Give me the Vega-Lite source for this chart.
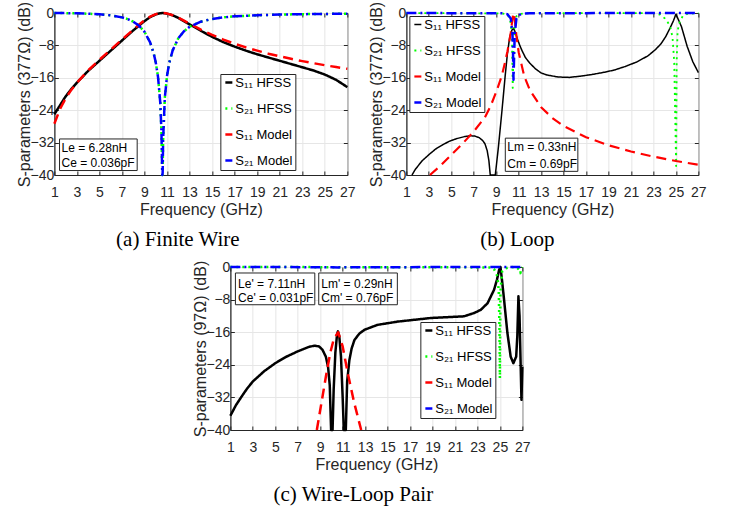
{
"$schema": "https://vega.github.io/schema/vega-lite/v6.json",
"background": "white",
"padding": {"left": 16, "top": 0, "right": 0, "bottom": 0},
"config": {
  "font": "Liberation Sans",
  "view": {"stroke": "#262626", "strokeWidth": 1},
  "axis": {"labelFont": "Liberation Sans", "titleFont": "Liberation Sans", "labelFontSize": 14, "titleFontSize": 16, "titleFontWeight": "normal", "labelColor": "#262626", "titleColor": "#262626", "domainColor": "#262626", "tickColor": "#262626", "gridColor": "#e6e6e6", "gridWidth": 1, "tickSize": -4, "tickWidth": 1, "labelFlush": false, "labelOverlap": false},
  "axisX": {"labelPadding": 14, "titlePadding": 2},
  "axisY": {"labelPadding": 4.5, "titlePadding": -2.5},
  "legend": {"title": null, "symbolType": "stroke", "symbolSize": 49, "labelFontSize": 13, "labelFont": "Liberation Sans", "labelColor": "black", "fillColor": "white", "strokeColor": "#262626", "padding": 2, "rowPadding": 12, "labelOffset": 0},
  "title": {"orient": "bottom", "font": "Liberation Serif", "fontSize": 21, "fontWeight": "normal", "color": "black", "offset": 12, "anchor": "middle", "frame": "group"}
},
"datasets": {
  "a": [
    {"freq":1,"db":-25.0,"series":"S₁₁ HFSS"},{"freq":1.5,"db":-22.8,"series":"S₁₁ HFSS"},{"freq":2,"db":-20.6,"series":"S₁₁ HFSS"},{"freq":2.5,"db":-18.8,"series":"S₁₁ HFSS"},{"freq":3,"db":-17.2,"series":"S₁₁ HFSS"},{"freq":4,"db":-14.3,"series":"S₁₁ HFSS"},{"freq":5,"db":-11.8,"series":"S₁₁ HFSS"},{"freq":6,"db":-9.3,"series":"S₁₁ HFSS"},{"freq":7,"db":-6.8,"series":"S₁₁ HFSS"},{"freq":8,"db":-4.3,"series":"S₁₁ HFSS"},{"freq":9,"db":-2.0,"series":"S₁₁ HFSS"},{"freq":9.5,"db":-1.0,"series":"S₁₁ HFSS"},{"freq":10,"db":-0.35,"series":"S₁₁ HFSS"},{"freq":10.3,"db":-0.1,"series":"S₁₁ HFSS"},{"freq":10.6,"db":0,"series":"S₁₁ HFSS"},{"freq":10.9,"db":-0.1,"series":"S₁₁ HFSS"},{"freq":11.2,"db":-0.3,"series":"S₁₁ HFSS"},{"freq":11.6,"db":-0.7,"series":"S₁₁ HFSS"},{"freq":12,"db":-1.2,"series":"S₁₁ HFSS"},{"freq":13,"db":-2.8,"series":"S₁₁ HFSS"},{"freq":14,"db":-4.4,"series":"S₁₁ HFSS"},{"freq":15,"db":-5.9,"series":"S₁₁ HFSS"},{"freq":16,"db":-7.2,"series":"S₁₁ HFSS"},{"freq":17,"db":-8.3,"series":"S₁₁ HFSS"},{"freq":18,"db":-9.3,"series":"S₁₁ HFSS"},{"freq":19,"db":-10.2,"series":"S₁₁ HFSS"},{"freq":20,"db":-11.0,"series":"S₁₁ HFSS"},{"freq":21,"db":-11.8,"series":"S₁₁ HFSS"},{"freq":22,"db":-12.6,"series":"S₁₁ HFSS"},{"freq":23,"db":-13.4,"series":"S₁₁ HFSS"},{"freq":24,"db":-14.2,"series":"S₁₁ HFSS"},{"freq":25,"db":-15.2,"series":"S₁₁ HFSS"},{"freq":26,"db":-16.5,"series":"S₁₁ HFSS"},{"freq":27,"db":-18.3,"series":"S₁₁ HFSS"},
    {"freq":1,"db":-0.01,"series":"S₂₁ HFSS"},{"freq":2,"db":-0.03,"series":"S₂₁ HFSS"},{"freq":3,"db":-0.08,"series":"S₂₁ HFSS"},{"freq":4,"db":-0.17,"series":"S₂₁ HFSS"},{"freq":5,"db":-0.32,"series":"S₂₁ HFSS"},{"freq":6,"db":-0.58,"series":"S₂₁ HFSS"},{"freq":7,"db":-1.08,"series":"S₂₁ HFSS"},{"freq":7.5,"db":-1.5,"series":"S₂₁ HFSS"},{"freq":8,"db":-2.13,"series":"S₂₁ HFSS"},{"freq":8.5,"db":-3.1,"series":"S₂₁ HFSS"},{"freq":9,"db":-4.65,"series":"S₂₁ HFSS"},{"freq":9.5,"db":-7.27,"series":"S₂₁ HFSS"},{"freq":9.8,"db":-9.81,"series":"S₂₁ HFSS"},{"freq":10,"db":-12.24,"series":"S₂₁ HFSS"},{"freq":10.2,"db":-15.82,"series":"S₂₁ HFSS"},{"freq":10.4,"db":-22.19,"series":"S₂₁ HFSS"},{"freq":10.5,"db":-29.0,"series":"S₂₁ HFSS"},{"freq":10.55,"db":-36.5,"series":"S₂₁ HFSS"},{"freq":10.58,"db":-40,"series":"S₂₁ HFSS"},{"freq":10.61,"db":-39.5,"series":"S₂₁ HFSS"},{"freq":10.65,"db":-31.4,"series":"S₂₁ HFSS"},{"freq":10.8,"db":-21.0,"series":"S₂₁ HFSS"},{"freq":11,"db":-15.47,"series":"S₂₁ HFSS"},{"freq":11.2,"db":-12.27,"series":"S₂₁ HFSS"},{"freq":11.5,"db":-9.23,"series":"S₂₁ HFSS"},{"freq":12,"db":-6.25,"series":"S₂₁ HFSS"},{"freq":12.5,"db":-4.51,"series":"S₂₁ HFSS"},{"freq":13,"db":-3.40,"series":"S₂₁ HFSS"},{"freq":14,"db":-2.14,"series":"S₂₁ HFSS"},{"freq":15,"db":-1.47,"series":"S₂₁ HFSS"},{"freq":16,"db":-1.08,"series":"S₂₁ HFSS"},{"freq":17,"db":-0.83,"series":"S₂₁ HFSS"},{"freq":19,"db":-0.55,"series":"S₂₁ HFSS"},{"freq":21,"db":-0.39,"series":"S₂₁ HFSS"},{"freq":23,"db":-0.29,"series":"S₂₁ HFSS"},{"freq":25,"db":-0.23,"series":"S₂₁ HFSS"},{"freq":27,"db":-0.18,"series":"S₂₁ HFSS"},
    {"freq":1,"db":-27.33,"series":"S₁₁ Model"},{"freq":1.5,"db":-23.72,"series":"S₁₁ Model"},{"freq":2,"db":-21.1,"series":"S₁₁ Model"},{"freq":2.5,"db":-18.99,"series":"S₁₁ Model"},{"freq":3,"db":-17.22,"series":"S₁₁ Model"},{"freq":4,"db":-14.19,"series":"S₁₁ Model"},{"freq":5,"db":-11.55,"series":"S₁₁ Model"},{"freq":6,"db":-9.05,"series":"S₁₁ Model"},{"freq":7,"db":-6.58,"series":"S₁₁ Model"},{"freq":7.5,"db":-5.35,"series":"S₁₁ Model"},{"freq":8,"db":-4.11,"series":"S₁₁ Model"},{"freq":8.5,"db":-2.92,"series":"S₁₁ Model"},{"freq":9,"db":-1.82,"series":"S₁₁ Model"},{"freq":9.5,"db":-0.9,"series":"S₁₁ Model"},{"freq":10,"db":-0.27,"series":"S₁₁ Model"},{"freq":10.3,"db":-0.06,"series":"S₁₁ Model"},{"freq":10.58,"db":0,"series":"S₁₁ Model"},{"freq":10.9,"db":-0.07,"series":"S₁₁ Model"},{"freq":11.2,"db":-0.27,"series":"S₁₁ Model"},{"freq":11.5,"db":-0.55,"series":"S₁₁ Model"},{"freq":12,"db":-1.18,"series":"S₁₁ Model"},{"freq":12.5,"db":-1.9,"series":"S₁₁ Model"},{"freq":13,"db":-2.65,"series":"S₁₁ Model"},{"freq":14,"db":-4.11,"series":"S₁₁ Model"},{"freq":15,"db":-5.42,"series":"S₁₁ Model"},{"freq":16,"db":-6.58,"series":"S₁₁ Model"},{"freq":17,"db":-7.59,"series":"S₁₁ Model"},{"freq":18,"db":-8.5,"series":"S₁₁ Model"},{"freq":19,"db":-9.3,"series":"S₁₁ Model"},{"freq":20,"db":-10.04,"series":"S₁₁ Model"},{"freq":21,"db":-10.7,"series":"S₁₁ Model"},{"freq":22,"db":-11.31,"series":"S₁₁ Model"},{"freq":23,"db":-11.88,"series":"S₁₁ Model"},{"freq":24,"db":-12.4,"series":"S₁₁ Model"},{"freq":25,"db":-12.89,"series":"S₁₁ Model"},{"freq":26,"db":-13.35,"series":"S₁₁ Model"},{"freq":27,"db":-13.78,"series":"S₁₁ Model"},
    {"freq":1,"db":-0.01,"series":"S₂₁ Model"},{"freq":2,"db":-0.03,"series":"S₂₁ Model"},{"freq":3,"db":-0.08,"series":"S₂₁ Model"},{"freq":4,"db":-0.17,"series":"S₂₁ Model"},{"freq":5,"db":-0.32,"series":"S₂₁ Model"},{"freq":6,"db":-0.58,"series":"S₂₁ Model"},{"freq":7,"db":-1.08,"series":"S₂₁ Model"},{"freq":7.5,"db":-1.5,"series":"S₂₁ Model"},{"freq":8,"db":-2.13,"series":"S₂₁ Model"},{"freq":8.5,"db":-3.1,"series":"S₂₁ Model"},{"freq":9,"db":-4.65,"series":"S₂₁ Model"},{"freq":9.5,"db":-7.27,"series":"S₂₁ Model"},{"freq":9.8,"db":-9.81,"series":"S₂₁ Model"},{"freq":10,"db":-12.24,"series":"S₂₁ Model"},{"freq":10.2,"db":-15.82,"series":"S₂₁ Model"},{"freq":10.4,"db":-22.19,"series":"S₂₁ Model"},{"freq":10.5,"db":-29.0,"series":"S₂₁ Model"},{"freq":10.55,"db":-36.5,"series":"S₂₁ Model"},{"freq":10.58,"db":-40,"series":"S₂₁ Model"},{"freq":10.61,"db":-39.5,"series":"S₂₁ Model"},{"freq":10.65,"db":-31.4,"series":"S₂₁ Model"},{"freq":10.8,"db":-21.0,"series":"S₂₁ Model"},{"freq":11,"db":-15.47,"series":"S₂₁ Model"},{"freq":11.2,"db":-12.27,"series":"S₂₁ Model"},{"freq":11.5,"db":-9.23,"series":"S₂₁ Model"},{"freq":12,"db":-6.25,"series":"S₂₁ Model"},{"freq":12.5,"db":-4.51,"series":"S₂₁ Model"},{"freq":13,"db":-3.40,"series":"S₂₁ Model"},{"freq":14,"db":-2.14,"series":"S₂₁ Model"},{"freq":15,"db":-1.47,"series":"S₂₁ Model"},{"freq":16,"db":-1.08,"series":"S₂₁ Model"},{"freq":17,"db":-0.83,"series":"S₂₁ Model"},{"freq":19,"db":-0.55,"series":"S₂₁ Model"},{"freq":21,"db":-0.39,"series":"S₂₁ Model"},{"freq":23,"db":-0.29,"series":"S₂₁ Model"},{"freq":25,"db":-0.23,"series":"S₂₁ Model"},{"freq":27,"db":-0.18,"series":"S₂₁ Model"}
  ],
  "b": [
    {"freq":1.5,"db":-40,"series":"S₁₁ HFSS"},{"freq":1.8,"db":-38.6,"series":"S₁₁ HFSS"},{"freq":2.4,"db":-36.5,"series":"S₁₁ HFSS"},{"freq":3,"db":-35.0,"series":"S₁₁ HFSS"},{"freq":3.6,"db":-33.6,"series":"S₁₁ HFSS"},{"freq":4.2,"db":-32.6,"series":"S₁₁ HFSS"},{"freq":4.8,"db":-31.7,"series":"S₁₁ HFSS"},{"freq":5.5,"db":-31.0,"series":"S₁₁ HFSS"},{"freq":6.2,"db":-30.5,"series":"S₁₁ HFSS"},{"freq":6.7,"db":-30.3,"series":"S₁₁ HFSS"},{"freq":7.1,"db":-30.4,"series":"S₁₁ HFSS"},{"freq":7.5,"db":-30.8,"series":"S₁₁ HFSS"},{"freq":7.8,"db":-31.5,"series":"S₁₁ HFSS"},{"freq":8.0,"db":-32.3,"series":"S₁₁ HFSS"},{"freq":8.2,"db":-34.0,"series":"S₁₁ HFSS"},{"freq":8.35,"db":-36.5,"series":"S₁₁ HFSS"},{"freq":8.47,"db":-40,"series":"S₁₁ HFSS"},{"freq":8.92,"db":-40,"series":"S₁₁ HFSS"},{"freq":9.0,"db":-38,"series":"S₁₁ HFSS"},{"freq":9.2,"db":-33,"series":"S₁₁ HFSS"},{"freq":9.5,"db":-24.5,"series":"S₁₁ HFSS"},{"freq":9.8,"db":-15.5,"series":"S₁₁ HFSS"},{"freq":10.0,"db":-10,"series":"S₁₁ HFSS"},{"freq":10.2,"db":-6,"series":"S₁₁ HFSS"},{"freq":10.4,"db":-4.2,"series":"S₁₁ HFSS"},{"freq":10.55,"db":-3.8,"series":"S₁₁ HFSS"},{"freq":10.7,"db":-4.8,"series":"S₁₁ HFSS"},{"freq":10.9,"db":-6.5,"series":"S₁₁ HFSS"},{"freq":11.1,"db":-8.0,"series":"S₁₁ HFSS"},{"freq":11.3,"db":-9.3,"series":"S₁₁ HFSS"},{"freq":11.6,"db":-11.0,"series":"S₁₁ HFSS"},{"freq":12.0,"db":-12.4,"series":"S₁₁ HFSS"},{"freq":12.5,"db":-13.8,"series":"S₁₁ HFSS"},{"freq":13.0,"db":-14.8,"series":"S₁₁ HFSS"},{"freq":13.5,"db":-15.3,"series":"S₁₁ HFSS"},{"freq":14.5,"db":-15.8,"series":"S₁₁ HFSS"},{"freq":15.5,"db":-15.9,"series":"S₁₁ HFSS"},{"freq":16.5,"db":-15.6,"series":"S₁₁ HFSS"},{"freq":17.5,"db":-15.2,"series":"S₁₁ HFSS"},{"freq":18.5,"db":-14.7,"series":"S₁₁ HFSS"},{"freq":19.5,"db":-14.1,"series":"S₁₁ HFSS"},{"freq":20.5,"db":-13.2,"series":"S₁₁ HFSS"},{"freq":21.5,"db":-12.1,"series":"S₁₁ HFSS"},{"freq":22.5,"db":-10.6,"series":"S₁₁ HFSS"},{"freq":23.2,"db":-9.0,"series":"S₁₁ HFSS"},{"freq":23.7,"db":-7.5,"series":"S₁₁ HFSS"},{"freq":24.1,"db":-5.8,"series":"S₁₁ HFSS"},{"freq":24.5,"db":-3.6,"series":"S₁₁ HFSS"},{"freq":24.8,"db":-1.8,"series":"S₁₁ HFSS"},{"freq":25.0,"db":-0.3,"series":"S₁₁ HFSS"},{"freq":25.2,"db":-1.5,"series":"S₁₁ HFSS"},{"freq":25.5,"db":-3.4,"series":"S₁₁ HFSS"},{"freq":26.0,"db":-8.2,"series":"S₁₁ HFSS"},{"freq":26.5,"db":-12.0,"series":"S₁₁ HFSS"},{"freq":27.0,"db":-14.7,"series":"S₁₁ HFSS"},
    {"freq":1,"db":0,"series":"S₂₁ HFSS"},{"freq":9.5,"db":-0.1,"series":"S₂₁ HFSS"},{"freq":9.9,"db":-0.3,"series":"S₂₁ HFSS"},{"freq":10.1,"db":-0.8,"series":"S₂₁ HFSS"},{"freq":10.3,"db":-2.5,"series":"S₂₁ HFSS"},{"freq":10.4,"db":-6,"series":"S₂₁ HFSS"},{"freq":10.47,"db":-18.5,"series":"S₂₁ HFSS"},{"freq":10.55,"db":-8,"series":"S₂₁ HFSS"},{"freq":10.65,"db":-2.5,"series":"S₂₁ HFSS"},{"freq":10.8,"db":-0.8,"series":"S₂₁ HFSS"},{"freq":11.2,"db":-0.2,"series":"S₂₁ HFSS"},{"freq":12,"db":0,"series":"S₂₁ HFSS"},{"freq":23,"db":-0.05,"series":"S₂₁ HFSS"},{"freq":23.6,"db":-0.4,"series":"S₂₁ HFSS"},{"freq":24.0,"db":-1.3,"series":"S₂₁ HFSS"},{"freq":24.3,"db":-2.4,"series":"S₂₁ HFSS"},{"freq":24.5,"db":-3.5,"series":"S₂₁ HFSS"},{"freq":24.7,"db":-6,"series":"S₂₁ HFSS"},{"freq":24.85,"db":-12,"series":"S₂₁ HFSS"},{"freq":24.97,"db":-30,"series":"S₂₁ HFSS"},{"freq":25.02,"db":-37.8,"series":"S₂₁ HFSS"},{"freq":25.07,"db":-12,"series":"S₂₁ HFSS"},{"freq":25.15,"db":-4.5,"series":"S₂₁ HFSS"},{"freq":25.3,"db":-2.5,"series":"S₂₁ HFSS"},{"freq":25.6,"db":-0.8,"series":"S₂₁ HFSS"},{"freq":26,"db":-0.2,"series":"S₂₁ HFSS"},{"freq":27,"db":0,"series":"S₂₁ HFSS"},
    {"freq":3.1,"db":-40,"series":"S₁₁ Model"},{"freq":4,"db":-37.82,"series":"S₁₁ Model"},{"freq":5,"db":-35.02,"series":"S₁₁ Model"},{"freq":6,"db":-32.26,"series":"S₁₁ Model"},{"freq":7,"db":-29.28,"series":"S₁₁ Model"},{"freq":8,"db":-25.72,"series":"S₁₁ Model"},{"freq":8.5,"db":-23.0,"series":"S₁₁ Model"},{"freq":9,"db":-19.5,"series":"S₁₁ Model"},{"freq":9.5,"db":-15.5,"series":"S₁₁ Model"},{"freq":9.8,"db":-12,"series":"S₁₁ Model"},{"freq":10,"db":-9.5,"series":"S₁₁ Model"},{"freq":10.2,"db":-6.5,"series":"S₁₁ Model"},{"freq":10.3,"db":-4.8,"series":"S₁₁ Model"},{"freq":10.4,"db":-2.5,"series":"S₁₁ Model"},{"freq":10.5,"db":-0.44,"series":"S₁₁ Model"},{"freq":10.55,"db":0,"series":"S₁₁ Model"},{"freq":10.6,"db":-0.44,"series":"S₁₁ Model"},{"freq":10.7,"db":-2.89,"series":"S₁₁ Model"},{"freq":10.8,"db":-5.58,"series":"S₁₁ Model"},{"freq":11,"db":-9.68,"series":"S₁₁ Model"},{"freq":11.5,"db":-15.61,"series":"S₁₁ Model"},{"freq":12,"db":-19.05,"series":"S₁₁ Model"},{"freq":13,"db":-23.25,"series":"S₁₁ Model"},{"freq":14,"db":-25.93,"series":"S₁₁ Model"},{"freq":15,"db":-27.89,"series":"S₁₁ Model"},{"freq":17,"db":-30.67,"series":"S₁₁ Model"},{"freq":19,"db":-32.66,"series":"S₁₁ Model"},{"freq":21,"db":-34.2,"series":"S₁₁ Model"},{"freq":23,"db":-35.46,"series":"S₁₁ Model"},{"freq":25,"db":-36.54,"series":"S₁₁ Model"},{"freq":27,"db":-37.47,"series":"S₁₁ Model"},
    {"freq":1,"db":0,"series":"S₂₁ Model"},{"freq":9.5,"db":-0.08,"series":"S₂₁ Model"},{"freq":10.0,"db":-0.31,"series":"S₂₁ Model"},{"freq":10.3,"db":-1.35,"series":"S₂₁ Model"},{"freq":10.45,"db":-5.2,"series":"S₂₁ Model"},{"freq":10.5,"db":-10.1,"series":"S₂₁ Model"},{"freq":10.54,"db":-16.5,"series":"S₂₁ Model"},{"freq":10.6,"db":-10.2,"series":"S₂₁ Model"},{"freq":10.65,"db":-5.1,"series":"S₂₁ Model"},{"freq":10.8,"db":-1.4,"series":"S₂₁ Model"},{"freq":11.0,"db":-0.5,"series":"S₂₁ Model"},{"freq":11.5,"db":-0.12,"series":"S₂₁ Model"},{"freq":12,"db":-0.05,"series":"S₂₁ Model"},{"freq":27,"db":0,"series":"S₂₁ Model"}
  ],
  "c": [
    {"freq":1,"db":-36.5,"series":"S₁₁ HFSS"},{"freq":1.5,"db":-33.9,"series":"S₁₁ HFSS"},{"freq":2,"db":-31.8,"series":"S₁₁ HFSS"},{"freq":2.5,"db":-29.8,"series":"S₁₁ HFSS"},{"freq":3,"db":-28.1,"series":"S₁₁ HFSS"},{"freq":4,"db":-25.6,"series":"S₁₁ HFSS"},{"freq":5,"db":-23.6,"series":"S₁₁ HFSS"},{"freq":6,"db":-22.0,"series":"S₁₁ HFSS"},{"freq":7,"db":-20.7,"series":"S₁₁ HFSS"},{"freq":8,"db":-19.6,"series":"S₁₁ HFSS"},{"freq":8.5,"db":-19.3,"series":"S₁₁ HFSS"},{"freq":8.9,"db":-19.5,"series":"S₁₁ HFSS"},{"freq":9.2,"db":-20.3,"series":"S₁₁ HFSS"},{"freq":9.5,"db":-22.0,"series":"S₁₁ HFSS"},{"freq":9.7,"db":-24.5,"series":"S₁₁ HFSS"},{"freq":9.85,"db":-29,"series":"S₁₁ HFSS"},{"freq":9.97,"db":-40,"series":"S₁₁ HFSS"},{"freq":10.1,"db":-40,"series":"S₁₁ HFSS"},{"freq":10.2,"db":-30,"series":"S₁₁ HFSS"},{"freq":10.35,"db":-21,"series":"S₁₁ HFSS"},{"freq":10.5,"db":-16.5,"series":"S₁₁ HFSS"},{"freq":10.58,"db":-15.8,"series":"S₁₁ HFSS"},{"freq":10.7,"db":-17,"series":"S₁₁ HFSS"},{"freq":10.85,"db":-22,"series":"S₁₁ HFSS"},{"freq":11.0,"db":-32,"series":"S₁₁ HFSS"},{"freq":11.1,"db":-40,"series":"S₁₁ HFSS"},{"freq":11.28,"db":-40,"series":"S₁₁ HFSS"},{"freq":11.4,"db":-28,"series":"S₁₁ HFSS"},{"freq":11.6,"db":-22.8,"series":"S₁₁ HFSS"},{"freq":11.8,"db":-20,"series":"S₁₁ HFSS"},{"freq":12.05,"db":-17.9,"series":"S₁₁ HFSS"},{"freq":12.5,"db":-16.3,"series":"S₁₁ HFSS"},{"freq":12.95,"db":-15.4,"series":"S₁₁ HFSS"},{"freq":14.1,"db":-14.2,"series":"S₁₁ HFSS"},{"freq":15.9,"db":-13.4,"series":"S₁₁ HFSS"},{"freq":18.9,"db":-12.5,"series":"S₁₁ HFSS"},{"freq":21.8,"db":-12.1,"series":"S₁₁ HFSS"},{"freq":22.7,"db":-11.3,"series":"S₁₁ HFSS"},{"freq":23.3,"db":-10.5,"series":"S₁₁ HFSS"},{"freq":23.9,"db":-8.9,"series":"S₁₁ HFSS"},{"freq":24.48,"db":-5.6,"series":"S₁₁ HFSS"},{"freq":24.75,"db":-3,"series":"S₁₁ HFSS"},{"freq":24.93,"db":-0.7,"series":"S₁₁ HFSS"},{"freq":25.05,"db":0,"series":"S₁₁ HFSS"},{"freq":25.2,"db":-3.5,"series":"S₁₁ HFSS"},{"freq":25.37,"db":-8,"series":"S₁₁ HFSS"},{"freq":25.67,"db":-16.2,"series":"S₁₁ HFSS"},{"freq":25.96,"db":-22,"series":"S₁₁ HFSS"},{"freq":26.2,"db":-23.6,"series":"S₁₁ HFSS"},{"freq":26.45,"db":-22,"series":"S₁₁ HFSS"},{"freq":26.55,"db":-17,"series":"S₁₁ HFSS"},{"freq":26.65,"db":-7.2,"series":"S₁₁ HFSS"},{"freq":26.75,"db":-12,"series":"S₁₁ HFSS"},{"freq":26.92,"db":-32.6,"series":"S₁₁ HFSS"},{"freq":27.0,"db":-24.5,"series":"S₁₁ HFSS"},
    {"freq":1,"db":0,"series":"S₂₁ HFSS"},{"freq":24.3,"db":-0.1,"series":"S₂₁ HFSS"},{"freq":24.5,"db":-0.6,"series":"S₂₁ HFSS"},{"freq":24.78,"db":-2.3,"series":"S₂₁ HFSS"},{"freq":24.9,"db":-6,"series":"S₂₁ HFSS"},{"freq":24.96,"db":-15,"series":"S₂₁ HFSS"},{"freq":25.0,"db":-27.3,"series":"S₂₁ HFSS"},{"freq":25.05,"db":-6,"series":"S₂₁ HFSS"},{"freq":25.2,"db":-1.1,"series":"S₂₁ HFSS"},{"freq":25.5,"db":-0.3,"series":"S₂₁ HFSS"},{"freq":26,"db":0,"series":"S₂₁ HFSS"},{"freq":26.5,"db":-0.1,"series":"S₂₁ HFSS"},{"freq":26.7,"db":-0.6,"series":"S₂₁ HFSS"},{"freq":26.82,"db":-1.5,"series":"S₂₁ HFSS"},{"freq":26.92,"db":-0.4,"series":"S₂₁ HFSS"},{"freq":27,"db":0,"series":"S₂₁ HFSS"},
    {"freq":8.7,"db":-40,"series":"S₁₁ Model"},{"freq":9.1,"db":-33.5,"series":"S₁₁ Model"},{"freq":9.5,"db":-27,"series":"S₁₁ Model"},{"freq":9.9,"db":-21,"series":"S₁₁ Model"},{"freq":10.2,"db":-17.8,"series":"S₁₁ Model"},{"freq":10.6,"db":-16.0,"series":"S₁₁ Model"},{"freq":11.0,"db":-19.5,"series":"S₁₁ Model"},{"freq":11.45,"db":-26,"series":"S₁₁ Model"},{"freq":12.0,"db":-33,"series":"S₁₁ Model"},{"freq":12.34,"db":-36.7,"series":"S₁₁ Model"},{"freq":12.65,"db":-40,"series":"S₁₁ Model"},
    {"freq":1,"db":0,"series":"S₂₁ Model"},{"freq":10.0,"db":-0.05,"series":"S₂₁ Model"},{"freq":10.6,"db":-0.11,"series":"S₂₁ Model"},{"freq":11.2,"db":-0.05,"series":"S₂₁ Model"},{"freq":27,"db":0,"series":"S₂₁ Model"}
  ]
},
"vconcat": [
  {
    "hconcat": [
      {
        "width": 293, "height": 162,
        "title": {"text": "(a) Finite Wire", "dx": -23},
        "resolve": {"axis": {"x": "independent", "y": "independent"}},
        "layer": [
          {
            "data": {"name": "a"},
            "mark": {"type": "line", "strokeJoin": "round"},
            "encoding": {
              "x": {"field": "freq", "type": "quantitative", "scale": {"domain": [1, 27], "nice": false, "zero": false}, "axis": {"values": [1,3,5,7,9,11,13,15,17,19,21,23,25,27], "title": "Frequency (GHz)"}},
              "y": {"field": "db", "type": "quantitative", "scale": {"domain": [-40, 0], "nice": false, "clamp": true}, "axis": {"values": [0,-8,-16,-24,-32,-40], "title": "S-parameters (377Ω) (dB)"}},
              "color": {"field": "series", "type": "nominal", "scale": {"domain": ["S₁₁ HFSS","S₂₁ HFSS","S₁₁ Model","S₂₁ Model"], "range": ["#000000","#00ff00","#ff0000","#0000ff"]}, "legend": {"orient": "none", "legendX": 166, "legendY": 61}},
              "strokeDash": {"field": "series", "type": "nominal", "scale": {"domain": ["S₁₁ HFSS","S₂₁ HFSS","S₁₁ Model","S₂₁ Model"], "range": [[1,0],[2,4],[10,6],[10,4,2,4]]}, "legend": {"orient": "none", "legendX": 166, "legendY": 61}},
              "strokeWidth": {"field": "series", "type": "nominal", "scale": {"domain": ["S₁₁ HFSS","S₂₁ HFSS","S₁₁ Model","S₂₁ Model"], "range": [2.5,2.5,2.5,2.5]}, "legend": {"orient": "none", "legendX": 166, "legendY": 61}}
            }
          },
          {
            "data": {"name": "a"},
            "mark": {"type": "point", "opacity": 0},
            "encoding": {
              "x": {"field": "freq", "type": "quantitative", "axis": {"orient": "top", "labels": false, "title": null, "grid": false, "domain": false, "values": [1,3,5,7,9,11,13,15,17,19,21,23,25,27]}},
              "y": {"field": "db", "type": "quantitative", "axis": {"orient": "right", "labels": false, "title": null, "grid": false, "domain": false, "values": [0,-8,-16,-24,-32,-40]}}
            }
          },
          {
            "data": {"values": [{}]},
            "mark": {"type": "rect", "fill": "white", "stroke": "#262626", "strokeWidth": 1},
            "encoding": {"x": {"datum": 1.46, "type": "quantitative", "axis": null}, "x2": {"datum": 8.35}, "y": {"datum": -31.1, "type": "quantitative", "axis": null}, "y2": {"datum": -38.9}}
          },
          {
            "data": {"values": [{}]},
            "mark": {"type": "text", "align": "left", "baseline": "middle", "fontSize": 12, "font": "Liberation Sans", "color": "black"},
            "encoding": {"x": {"datum": 1.64, "type": "quantitative", "axis": null}, "y": {"datum": -33.3, "type": "quantitative", "axis": null}, "text": {"value": "Le = 6.28nH"}}
          },
          {
            "data": {"values": [{}]},
            "mark": {"type": "text", "align": "left", "baseline": "middle", "fontSize": 12, "font": "Liberation Sans", "color": "black"},
            "encoding": {"x": {"datum": 1.64, "type": "quantitative", "axis": null}, "y": {"datum": -37.1, "type": "quantitative", "axis": null}, "text": {"value": "Ce = 0.036pF"}}
          }
        ]
      },
      {
        "width": 292, "height": 162,
        "title": {"text": "(b) Loop", "dx": -35},
        "resolve": {"axis": {"x": "independent", "y": "independent"}},
        "layer": [
          {
            "data": {"name": "b"},
            "mark": {"type": "line", "strokeJoin": "round"},
            "encoding": {
              "x": {"field": "freq", "type": "quantitative", "scale": {"domain": [1, 27], "nice": false, "zero": false}, "axis": {"values": [1,3,5,7,9,11,13,15,17,19,21,23,25,27], "title": "Frequency (GHz)"}},
              "y": {"field": "db", "type": "quantitative", "scale": {"domain": [-40, 0], "nice": false, "clamp": true}, "axis": {"values": [0,-8,-16,-24,-32,-40], "title": "S-parameters (377Ω) (dB)"}},
              "color": {"field": "series", "type": "nominal", "scale": {"domain": ["S₁₁ HFSS","S₂₁ HFSS","S₁₁ Model","S₂₁ Model"], "range": ["#000000","#00ff00","#ff0000","#0000ff"]}, "legend": {"orient": "none", "legendX": 3, "legendY": 3}},
              "strokeDash": {"field": "series", "type": "nominal", "scale": {"domain": ["S₁₁ HFSS","S₂₁ HFSS","S₁₁ Model","S₂₁ Model"], "range": [[1,0],[2,4],[10,6],[10,4,2,4]]}, "legend": {"orient": "none", "legendX": 3, "legendY": 3}},
              "strokeWidth": {"field": "series", "type": "nominal", "scale": {"domain": ["S₁₁ HFSS","S₂₁ HFSS","S₁₁ Model","S₂₁ Model"], "range": [1.5,2.5,2.5,2.5]}, "legend": {"orient": "none", "legendX": 3, "legendY": 3}}
            }
          },
          {
            "data": {"name": "b"},
            "mark": {"type": "point", "opacity": 0},
            "encoding": {
              "x": {"field": "freq", "type": "quantitative", "axis": {"orient": "top", "labels": false, "title": null, "grid": false, "domain": false, "values": [1,3,5,7,9,11,13,15,17,19,21,23,25,27]}},
              "y": {"field": "db", "type": "quantitative", "axis": {"orient": "right", "labels": false, "title": null, "grid": false, "domain": false, "values": [0,-8,-16,-24,-32,-40]}}
            }
          },
          {
            "data": {"values": [{}]},
            "mark": {"type": "rect", "fill": "white", "stroke": "#262626", "strokeWidth": 1},
            "encoding": {"x": {"datum": 9.81, "type": "quantitative", "axis": null}, "x2": {"datum": 16.27}, "y": {"datum": -30.9, "type": "quantitative", "axis": null}, "y2": {"datum": -39.1}}
          },
          {
            "data": {"values": [{}]},
            "mark": {"type": "text", "align": "left", "baseline": "middle", "fontSize": 12, "font": "Liberation Sans", "color": "black"},
            "encoding": {"x": {"datum": 9.99, "type": "quantitative", "axis": null}, "y": {"datum": -33.2, "type": "quantitative", "axis": null}, "text": {"value": "Lm = 0.33nH"}}
          },
          {
            "data": {"values": [{}]},
            "mark": {"type": "text", "align": "left", "baseline": "middle", "fontSize": 12, "font": "Liberation Sans", "color": "black"},
            "encoding": {"x": {"datum": 9.99, "type": "quantitative", "axis": null}, "y": {"datum": -37.3, "type": "quantitative", "axis": null}, "text": {"value": "Cm = 0.69pF"}}
          }
        ]
      }
    ],
    "spacing": 59,
    "bounds": "flush",
    "resolve": {"scale": {"color": "independent", "strokeDash": "independent", "strokeWidth": "independent"}, "legend": {"color": "independent", "strokeDash": "independent", "strokeWidth": "independent"}}
  },
  {
    "width": 292, "height": 163,
    "title": {"text": "(c) Wire-Loop Pair", "dx": -23},
    "resolve": {"axis": {"x": "independent", "y": "independent"}},
    "layer": [
      {
        "data": {"name": "c"},
        "mark": {"type": "line", "strokeJoin": "round"},
        "encoding": {
          "x": {"field": "freq", "type": "quantitative", "scale": {"domain": [1, 27], "nice": false, "zero": false}, "axis": {"values": [1,3,5,7,9,11,13,15,17,19,21,23,25,27], "title": "Frequency (GHz)"}},
          "y": {"field": "db", "type": "quantitative", "scale": {"domain": [-40, 0], "nice": false, "clamp": true}, "axis": {"values": [0,-8,-16,-24,-32,-40], "title": "S-parameters (97Ω) (dB)"}},
          "color": {"field": "series", "type": "nominal", "scale": {"domain": ["S₁₁ HFSS","S₂₁ HFSS","S₁₁ Model","S₂₁ Model"], "range": ["#000000","#00ff00","#ff0000","#0000ff"]}, "legend": {"orient": "none", "legendX": 190, "legendY": 55}},
          "strokeDash": {"field": "series", "type": "nominal", "scale": {"domain": ["S₁₁ HFSS","S₂₁ HFSS","S₁₁ Model","S₂₁ Model"], "range": [[1,0],[2,4],[10,6],[10,4,2,4]]}, "legend": {"orient": "none", "legendX": 190, "legendY": 55}},
          "strokeWidth": {"field": "series", "type": "nominal", "scale": {"domain": ["S₁₁ HFSS","S₂₁ HFSS","S₁₁ Model","S₂₁ Model"], "range": [2.5,2.5,2.5,2.5]}, "legend": {"orient": "none", "legendX": 190, "legendY": 55}}
        }
      },
      {
        "data": {"name": "c"},
        "mark": {"type": "point", "opacity": 0},
        "encoding": {
          "x": {"field": "freq", "type": "quantitative", "axis": {"orient": "top", "labels": false, "title": null, "grid": false, "domain": false, "values": [1,3,5,7,9,11,13,15,17,19,21,23,25,27]}},
          "y": {"field": "db", "type": "quantitative", "axis": {"orient": "right", "labels": false, "title": null, "grid": false, "domain": false, "values": [0,-8,-16,-24,-32,-40]}}
        }
      },
      {
        "data": {"values": [{}]},
        "mark": {"type": "rect", "fill": "white", "stroke": "#262626", "strokeWidth": 1},
        "encoding": {"x": {"datum": 1.45, "type": "quantitative", "axis": null}, "x2": {"datum": 8.52}, "y": {"datum": -1.47, "type": "quantitative", "axis": null}, "y2": {"datum": -9.26}}
      },
      {
        "data": {"values": [{}]},
        "mark": {"type": "rect", "fill": "white", "stroke": "#262626", "strokeWidth": 1},
        "encoding": {"x": {"datum": 8.87, "type": "quantitative", "axis": null}, "x2": {"datum": 15.87}, "y": {"datum": -1.47, "type": "quantitative", "axis": null}, "y2": {"datum": -9.26}}
      },
      {
        "data": {"values": [{}]},
        "mark": {"type": "text", "align": "left", "baseline": "middle", "fontSize": 12, "font": "Liberation Sans", "color": "black"},
        "encoding": {"x": {"datum": 1.69, "type": "quantitative", "axis": null}, "y": {"datum": -4.1, "type": "quantitative", "axis": null}, "text": {"value": "Le' = 7.11nH"}}
      },
      {
        "data": {"values": [{}]},
        "mark": {"type": "text", "align": "left", "baseline": "middle", "fontSize": 12, "font": "Liberation Sans", "color": "black"},
        "encoding": {"x": {"datum": 1.69, "type": "quantitative", "axis": null}, "y": {"datum": -7.6, "type": "quantitative", "axis": null}, "text": {"value": "Ce' = 0.031pF"}}
      },
      {
        "data": {"values": [{}]},
        "mark": {"type": "text", "align": "left", "baseline": "middle", "fontSize": 12, "font": "Liberation Sans", "color": "black"},
        "encoding": {"x": {"datum": 9.1, "type": "quantitative", "axis": null}, "y": {"datum": -4.1, "type": "quantitative", "axis": null}, "text": {"value": "Lm' = 0.29nH"}}
      },
      {
        "data": {"values": [{}]},
        "mark": {"type": "text", "align": "left", "baseline": "middle", "fontSize": 12, "font": "Liberation Sans", "color": "black"},
        "encoding": {"x": {"datum": 9.1, "type": "quantitative", "axis": null}, "y": {"datum": -7.6, "type": "quantitative", "axis": null}, "text": {"value": "Cm' = 0.76pF"}}
      }
    ]
  }
],
"center": true,
"spacing": 8,
"resolve": {"scale": {"color": "independent", "strokeDash": "independent", "strokeWidth": "independent"}, "legend": {"color": "independent", "strokeDash": "independent", "strokeWidth": "independent"}}
}
